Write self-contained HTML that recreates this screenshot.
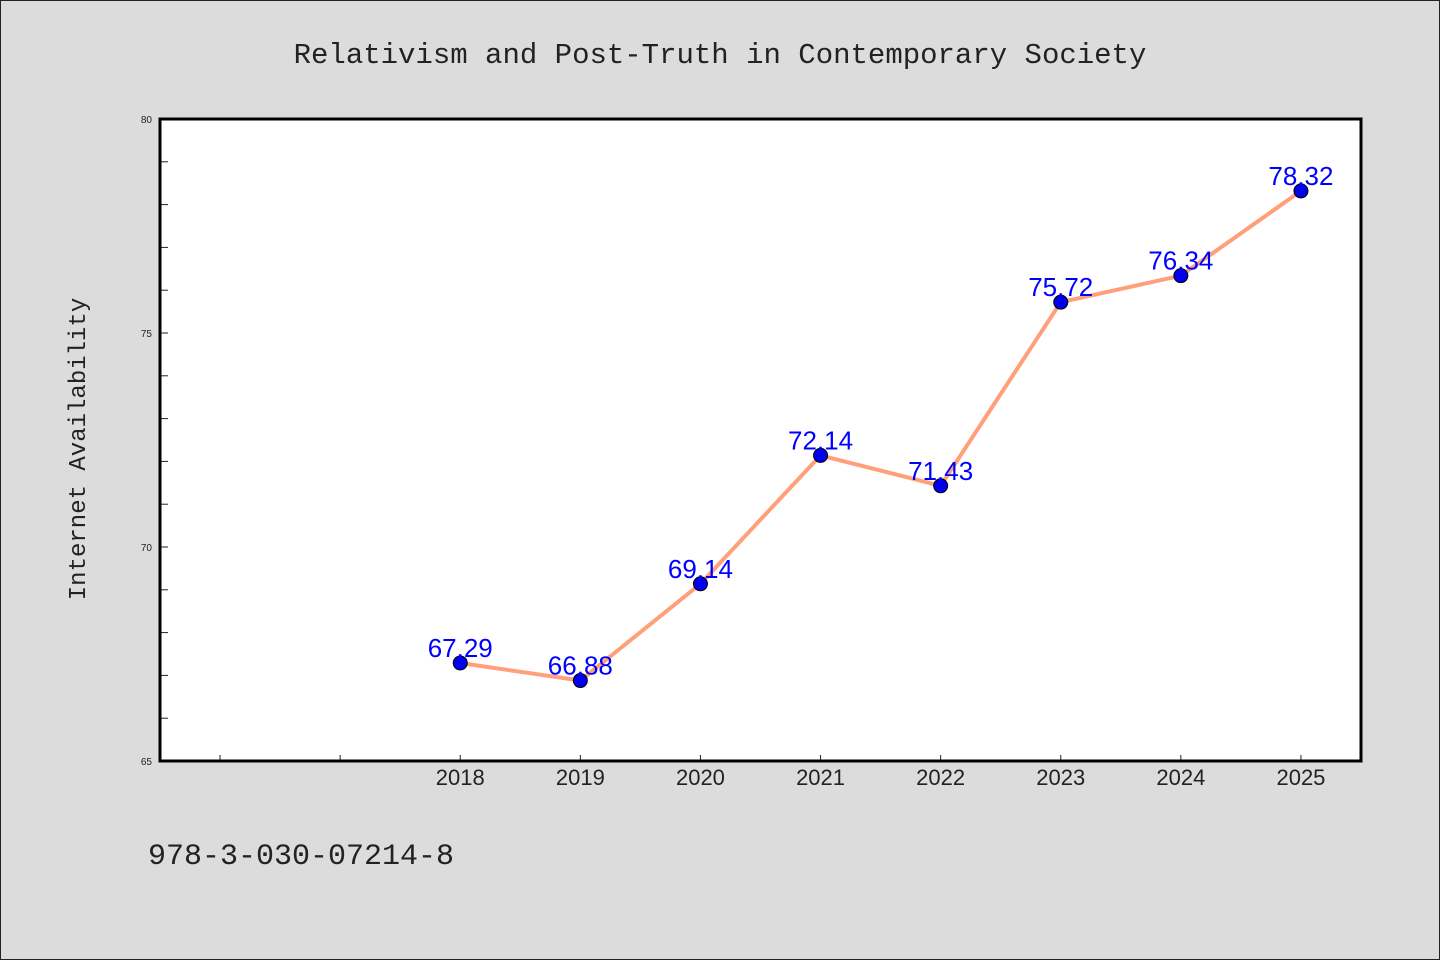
<!DOCTYPE html>
<html><head><meta charset="utf-8"><style>
html,body{margin:0;padding:0;background:#dcdcdc;}
svg{display:block;font-family:"WenQuanYi Zen Hei","Liberation Sans",sans-serif;}
</style></head><body>
<svg id="chart" width="1440" height="960">
<rect x="0.5" y="0.5" width="1439" height="959" fill="#dcdcdc" stroke="#222"/>
<text x="720" y="63" text-anchor="middle" font-size="29" fill="#222" font-family="'Liberation Mono','WenQuanYi Zen Hei',monospace">Relativism and Post-Truth in Contemporary Society</text>
<rect x="160" y="119" width="1201" height="642" fill="#fff"/>
<g id="axes"></g>
<g id="marks"></g>
<rect x="160" y="119" width="1201" height="642" fill="none" stroke="#000" stroke-width="3"/>
<text transform="translate(85,449) rotate(-90)" text-anchor="middle" font-size="24" fill="#222" font-family="'Liberation Mono','WenQuanYi Zen Hei',monospace">Internet Availability</text>
<text x="148" y="864" font-size="30" fill="#222" font-family="'Liberation Mono','WenQuanYi Zen Hei',monospace">978-3-030-07214-8</text>
</svg>
<script>
const years = [2018,2019,2020,2021,2022,2023,2024,2025];
const values = [67.29,66.88,69.14,72.14,71.43,75.72,76.34,78.32];
const labels = ["67.29","66.88","69.14","72.14","71.43","75.72","76.34","78.32"];
const yTicks = [65,70,75,80];
const xTicks = [2016,2017,2018,2019,2020,2021,2022,2023,2024,2025];
const NS="http://www.w3.org/2000/svg";
const x0=160,x1=1361,y0=761,y1=119,xmin=2015.5,xmax=2025.5,ymin=65,ymax=80;
function X(v){return x0+(v-xmin)/(xmax-xmin)*(x1-x0);}
function Y(v){return y0-(v-ymin)/(ymax-ymin)*(y0-y1);}
function mk(t,a,p){const e=document.createElementNS(NS,t);for(const k in a)e.setAttribute(k,a[k]);p.appendChild(e);return e;}
const ax=document.getElementById('axes'),mg=document.getElementById('marks');
for(let v=ymin;v<=ymax;v++){
  const l=mk('line',{x1:x0,x2:x0+8,y1:Y(v),y2:Y(v),stroke:'#222','stroke-width':1},ax);
  
  
}
yTicks.forEach(v=>{
  const t=mk('text',{x:x0-8,y:Y(v)+4,'text-anchor':'end','font-size':10,fill:'#222'},ax);
  t.textContent=v;
  
  
});
xTicks.forEach(v=>{
  const l=mk('line',{x1:X(v),x2:X(v),y1:y0,y2:y0-6,stroke:'#222','stroke-width':1},ax);
  
  
});
years.forEach(v=>{
  const t=mk('text',{x:X(v),y:y0+24,'text-anchor':'middle','font-size':22,fill:'#222'},ax);
  t.textContent=v;
  
  
});
const pl=mk('polyline',{points:years.map((y,i)=>X(y)+','+Y(values[i])).join(' '),fill:'none',stroke:'#ffa07a','stroke-width':4,'stroke-linejoin':'round'},mg);


years.forEach((y,i)=>{
  const c=mk('circle',{cx:X(y),cy:Y(values[i]),r:7,fill:'#0000ee',stroke:'#000','stroke-width':1},mg);
  
  
});
years.forEach((y,i)=>{
  const t=mk('text',{x:X(y),y:Y(values[i])-6,'text-anchor':'middle','font-size':26,fill:'#0000ff'},mg);
  t.textContent=labels[i];
  
  
});
</script>
</body></html>
